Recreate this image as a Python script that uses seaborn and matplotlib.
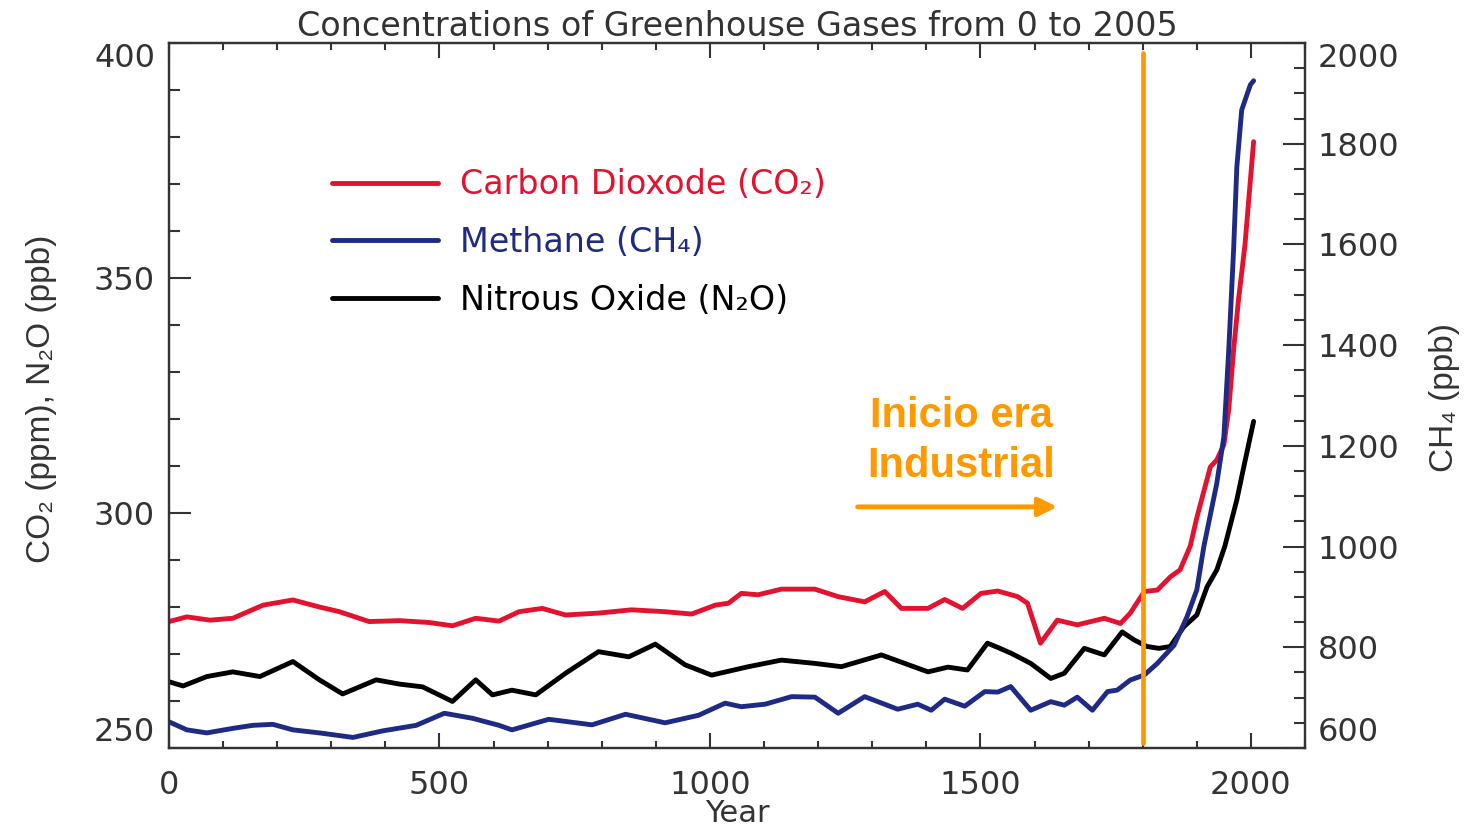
import pandas as pd
import matplotlib.pyplot as plt
import seaborn as sns
from matplotlib.ticker import MultipleLocator

# values
co2_years = [0, 33, 76, 118, 174, 229, 278, 315, 370, 426, 481, 524, 567, 610,
             647, 690, 733, 794, 855, 917, 966, 1010, 1034, 1058, 1089, 1132,
             1194, 1237, 1286, 1323, 1354, 1403, 1434, 1467, 1501, 1532, 1569,
             1587, 1611, 1642, 1679, 1729, 1759, 1777, 1803, 1827, 1851, 1869,
             1888, 1900, 1925, 1937, 1950, 1959, 1968, 1977, 1989, 2005]
co2_ppm = [276.9, 277.9, 277.2, 277.6, 280.4, 281.5, 280.0, 279.0, 276.9, 277.1,
           276.7, 276.0, 277.6, 277.0, 279.0, 279.7, 278.3, 278.7, 279.4, 279.0,
           278.5, 280.4, 280.8, 282.9, 282.6, 283.8, 283.8, 282.2, 281.1, 283.3,
           279.7, 279.7, 281.6, 279.7, 282.9, 283.4, 282.2, 280.8, 272.3, 277.2,
           276.2, 277.6, 276.5, 278.7, 283.3, 283.6, 286.4, 287.9, 293.0, 299.0,
           309.8, 311.3, 314.5, 322.0, 334.7, 345.3, 357.0, 379.0]

ch4_years = [0, 33, 70, 118, 155, 192, 229, 278, 340, 395, 457, 509, 561, 610,
             634, 702, 782, 844, 917, 979, 1028, 1058, 1102, 1151, 1194, 1237,
             1286, 1347, 1384, 1409, 1434, 1471, 1508, 1532, 1556, 1593, 1630,
             1655, 1679, 1707, 1735, 1753, 1777, 1803, 1827, 1858, 1882, 1900,
             1913, 1937, 1950, 1959, 1968, 1974, 1983, 1999, 2005]
ch4_ppb = [652, 636, 630, 639, 645, 647, 636, 630, 621, 634, 645, 669, 659, 645,
           636, 657, 646, 667, 650, 665, 689, 682, 687, 702, 701, 669, 702, 677,
           687, 675, 697, 683, 712, 711, 722, 675, 692, 685, 701, 675, 712, 715,
           735, 745, 768, 804, 861, 914, 1000, 1126, 1218, 1390, 1589, 1754,
           1867, 1917, 1925]

n2o_years = [0, 26, 70, 118, 168, 229, 278, 321, 383, 426, 469, 524, 567, 598,
             634, 678, 733, 794, 850, 899, 954, 1003, 1071, 1132, 1194, 1243,
             1317, 1403, 1440, 1476, 1513, 1532, 1556, 1593, 1630, 1655, 1692,
             1729, 1762, 1784, 1808, 1830, 1851, 1876, 1900, 1919, 1937, 1952,
             1974, 1987, 2005]
n2o_ppb = [264.1, 263.2, 265.2, 266.2, 265.2, 268.4, 264.5, 261.5, 264.5, 263.6,
           263.0, 259.9, 264.5, 261.3, 262.3, 261.3, 265.9, 270.5, 269.4, 272.1,
           267.7, 265.5, 267.3, 268.7, 268.0, 267.3, 269.8, 266.2, 267.2, 266.6,
           272.3, 271.4, 270.2, 268.0, 264.8, 265.9, 271.2, 269.8, 274.7, 273.0,
           271.6, 271.2, 271.6, 275.8, 278.3, 284.3, 287.9, 293.0, 302.8, 309.9,
           319.5]

labels = ["Carbon Dioxode (CO₂)", "Methane (CH₄)", "Nitrous Oxide (N₂O)"]
industrial_year = 1800

RED = "#E3122F"
BLUE = "#1E2A84"
BLACK = "#000000"
ORANGE = "#FF9900"
GREY = "#333333"

sns.set_style("ticks")
plt.rcParams["font.family"] = ["DejaVu Sans"]
label_font = ["Liberation Sans", "DejaVu Sans"]

co2_df = pd.DataFrame({"Year": co2_years, "value": co2_ppm})
ch4_df = pd.DataFrame({"Year": ch4_years, "value": ch4_ppb})
n2o_df = pd.DataFrame({"Year": n2o_years, "value": n2o_ppb})

fig = plt.figure(figsize=(14.74, 8.32), dpi=100)
ax = fig.add_axes([169 / 1474, 1 - 748 / 832, 1136 / 1474, 705 / 832])
ax2 = ax.twinx()

sns.lineplot(data=co2_df, x="Year", y="value", ax=ax, color=RED, linewidth=3.5)
sns.lineplot(data=n2o_df, x="Year", y="value", ax=ax, color=BLACK, linewidth=3.5)
sns.lineplot(data=ch4_df, x="Year", y="value", ax=ax2, color=BLUE, linewidth=3.5)
h_co2, h_n2o = ax.lines[0], ax.lines[1]
h_ch4 = ax2.lines[0]

ax.set_xlim(0, 2100)
ax.set_ylim(250, 400)
ax2.set_ylim(600, 2000)

ax.xaxis.set_major_locator(MultipleLocator(500))
ax.xaxis.set_minor_locator(MultipleLocator(100))
ax.yaxis.set_major_locator(MultipleLocator(50))
ax.yaxis.set_minor_locator(MultipleLocator(10))
ax2.yaxis.set_major_locator(MultipleLocator(200))
ax2.yaxis.set_minor_locator(MultipleLocator(50))

ax.tick_params(axis="x", which="major", direction="in", length=11, width=1.5,
               top=True, pad=16, labelsize=23, color=GREY, labelcolor=GREY)
ax.tick_params(axis="x", which="minor", direction="in", length=5, width=1.5,
               top=True, color=GREY)
ax.tick_params(axis="y", which="major", direction="in", length=16, width=1.5,
               pad=10, labelsize=23, color=GREY, labelcolor=GREY)
ax.tick_params(axis="y", which="minor", direction="in", length=8, width=1.5, color=GREY)
ax2.tick_params(axis="y", which="major", direction="in", length=16, width=1.5,
                pad=9, labelsize=23, color=GREY, labelcolor=GREY)
ax2.tick_params(axis="y", which="minor", direction="in", length=8, width=1.5, color=GREY)

for a in (ax, ax2):
    for s in a.spines.values():
        s.set_visible(True)
        s.set_color(GREY)
        s.set_linewidth(1.6)

ax.set_title("Concentrations of Greenhouse Gases from 0 to 2005", fontsize=24,
             pad=3, color=GREY)
ax.set_xlabel("Year", fontsize=22, color=GREY)
ax.xaxis.set_label_coords(0.5, -0.072)
ax.set_ylabel("CO₂ (ppm), N₂O (ppb)", fontsize=24, family=label_font, color=GREY)
ax.yaxis.set_label_coords(-0.099, 0.495)
ax2.set_ylabel("CH₄ (ppb)", fontsize=24, family=label_font, color=GREY)
ax2.yaxis.set_label_coords(1.109, 0.497)

ax2.legend(handles=[h_co2, h_ch4, h_n2o], labels=labels, loc="upper left",
           bbox_to_anchor=(0.1435, 0.822), frameon=False, fontsize=24,
           handlelength=3.18, handletextpad=0.66, labelspacing=0.74,
           borderpad=0, borderaxespad=0, labelcolor="linecolor")

# start of the industrial era
ax2.axvline(industrial_year, ymin=0.007, ymax=0.986, color=ORANGE, lw=3.4, zorder=10)
ax.text(1465, 318.3, "Inicio era", color=ORANGE, fontsize=30, fontweight="bold",
        family=label_font, ha="center", va="baseline")
ax.text(1465, 307.7, "Industrial", color=ORANGE, fontsize=30, fontweight="bold",
        family=label_font, ha="center", va="baseline")
ax.annotate("", xy=(1642, 301.3), xytext=(1273, 301.3),
            arrowprops=dict(arrowstyle="-|>", color=ORANGE, lw=3.5,
                            mutation_scale=28, shrinkA=0, shrinkB=0))

# end labels of each y axis sit inside the frame, as in the original
fig.canvas.draw()
for a, top, bottom in ((ax, "400", "250"), (ax2, "2000", "600")):
    for t in a.get_yticklabels():
        if t.get_text() == top:
            t.set_va("top")
        elif t.get_text() == bottom:
            t.set_va("bottom")

fig.savefig("out.png", dpi=100)
